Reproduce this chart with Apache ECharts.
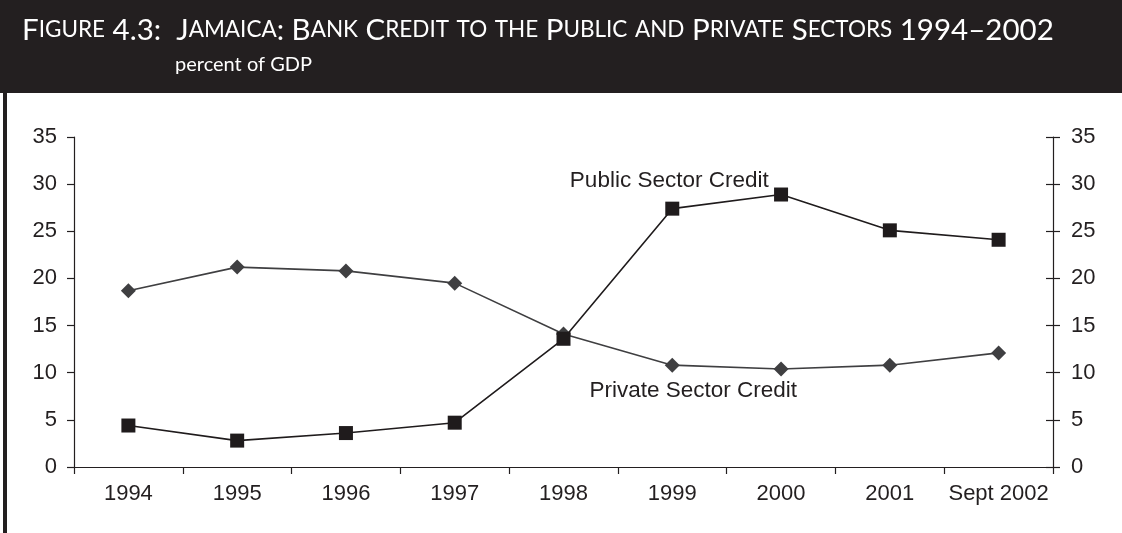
<!DOCTYPE html>
<html>
<head>
<meta charset="utf-8">
<script src="https://cdn.jsdelivr.net/npm/echarts@6/dist/echarts.min.js"></script>
<style>
  html, body { margin: 0; padding: 0; background: #ffffff; }
  #chart { width: 1122px; height: 533px; }
</style>
</head>
<body>
<div id="chart"></div>
<script>
// Categories and series (percent of GDP)
const years = ['1994', '1995', '1996', '1997', '1998', '1999', '2000', '2001', 'Sept 2002'];
const publicCredit = [4.4, 2.8, 3.6, 4.7, 13.6, 27.4, 28.9, 25.1, 24.1];
const privateCredit = [18.7, 21.2, 20.8, 19.5, 14.1, 10.8, 10.4, 10.8, 12.1];
const yTicks = [0, 5, 10, 15, 20, 25, 30, 35];

const titleText = 'Figure 4.3:  Jamaica: Bank Credit to the Public and Private Sectors 1994\u20132002';
const subtitleText = 'percent of GDP';

// Turn mixed-case text into small-caps rich text runs
function smallCaps(str) {
  const parts = [];
  let cur = '', curLower = null;
  for (const ch of str) {
    const lower = ch !== ch.toUpperCase();
    if (curLower !== null && lower !== curLower) {
      parts.push(curLower ? '{sm|' + cur.toUpperCase() + '}' : '{big|' + cur + '}');
      cur = '';
    }
    cur += ch;
    curLower = lower;
  }
  if (cur) parts.push(curLower ? '{sm|' + cur.toUpperCase() + '}' : '{big|' + cur + '}');
  return parts.join('');
}

const sansFont = 'Liberation Sans, Arial, sans-serif';
const axisFont = { fontFamily: sansFont, fontSize: 22, color: '#231f20' };
const ink = '#231f20';

const chart = echarts.init(document.getElementById('chart'));
chart.setOption({
  backgroundColor: '#ffffff',
  animation: false,
  graphic: [
    { type: 'rect', left: 0, top: 0, shape: { width: 1122, height: 93 }, style: { fill: '#231f20' }, z: 0 },
    { type: 'rect', left: 3, top: 0, shape: { width: 4, height: 533 }, style: { fill: '#231f20' }, z: 0 }
  ],
  title: [
    {
      text: smallCaps(titleText),
      left: 17, top: 10,
      textStyle: {
        rich: {
          big: { fontFamily: 'Lato', fontSize: 29.5, color: '#ffffff', fontWeight: 'normal' },
          sm: { fontFamily: 'Lato', fontSize: 22.5, color: '#ffffff', fontWeight: 'normal' }
        }
      }
    },
    {
      text: subtitleText,
      left: 170, top: 50,
      textStyle: { fontFamily: 'Lato', fontSize: 20, color: '#ffffff', fontWeight: 'normal' }
    }
  ],
  grid: { left: 74, right: 69, top: 137, bottom: 66, containLabel: false },
  xAxis: {
    type: 'category',
    data: years,
    boundaryGap: true,
    axisLine: { lineStyle: { color: ink, width: 1.2 } },
    axisTick: { show: true, length: 7, interval: 0, lineStyle: { color: ink, width: 1.2 } },
    axisLabel: Object.assign({ margin: 16, interval: 0 }, axisFont),
    splitLine: { show: false }
  },
  yAxis: [
    {
      type: 'value', position: 'left', min: 0, max: 35, interval: 5,
      axisLine: { show: true, lineStyle: { color: ink, width: 1.2 } },
      axisTick: { show: true, length: 7, lineStyle: { color: ink, width: 1.2 } },
      axisLabel: Object.assign({ margin: 17, formatter: v => yTicks.includes(v) ? String(v) : '' }, axisFont),
      splitLine: { show: false }
    },
    {
      type: 'value', position: 'right', min: 0, max: 35, interval: 5,
      axisLine: { show: true, onZero: false, lineStyle: { color: ink, width: 1.2 } },
      axisTick: { show: true, length: 7, lineStyle: { color: ink, width: 1.2 } },
      axisLabel: Object.assign({ margin: 18, formatter: v => yTicks.includes(v) ? String(v) : '' }, axisFont),
      splitLine: { show: false }
    },
    {
      type: 'value', position: 'right', min: 0, max: 35, interval: 5,
      axisLine: { show: false },
      axisTick: { show: true, inside: true, length: 7, lineStyle: { color: ink, width: 1.2 } },
      axisLabel: { show: false },
      splitLine: { show: false }
    }
  ],
  series: [
    {
      name: 'Private Sector Credit',
      type: 'line',
      data: privateCredit,
      symbol: 'diamond',
      symbolSize: 15,
      itemStyle: { color: '#3f3f41' },
      lineStyle: { color: '#3f3f41', width: 1.6 },
      z: 3,
      markPoint: {
        symbol: 'circle', symbolSize: 1,
        itemStyle: { color: 'rgba(0,0,0,0)' },
        label: { show: true, position: 'inside', offset: [21, 0], color: ink, fontFamily: sansFont, fontSize: 22.5, formatter: '{b}' },
        data: [{ name: 'Private Sector Credit', coord: ['1999', 8.1] }]
      }
    },
    {
      name: 'Public Sector Credit',
      type: 'line',
      data: publicCredit,
      symbol: 'rect',
      symbolSize: 14,
      itemStyle: { color: '#1f1b1c' },
      lineStyle: { color: '#1f1b1c', width: 1.6 },
      z: 4,
      markPoint: {
        symbol: 'circle', symbolSize: 1,
        itemStyle: { color: 'rgba(0,0,0,0)' },
        label: { show: true, position: 'inside', offset: [-3, 0], color: ink, fontFamily: sansFont, fontSize: 22.5, formatter: '{b}' },
        data: [{ name: 'Public Sector Credit', coord: ['1999', 30.4] }]
      }
    }
  ]
});
</script>
</body>
</html>
